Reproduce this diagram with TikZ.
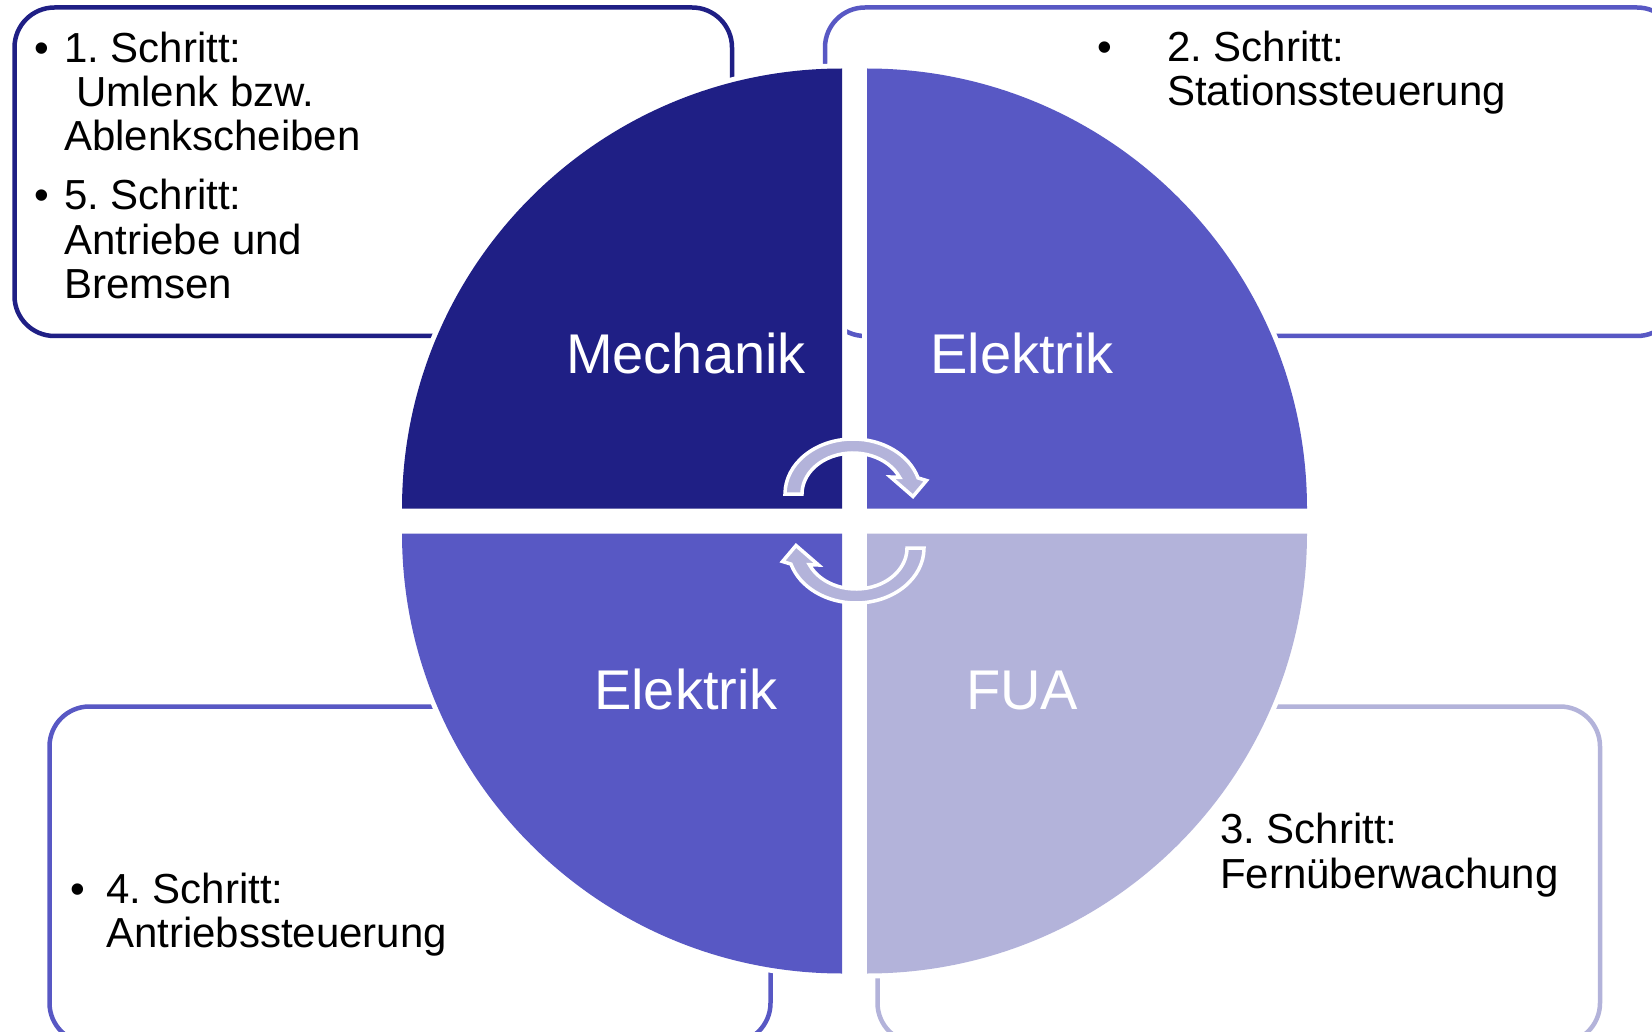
\documentclass[tikz,border=0pt]{standalone}
\usepackage{fontspec}
\setmainfont{Liberation Sans}
\usetikzlibrary{calc}
\definecolor{navy}{RGB}{31,31,133}
\definecolor{midblue}{RGB}{88,88,196}
\definecolor{lightblue}{RGB}{179,179,218}
\frenchspacing
\begin{document}
\begin{tikzpicture}[x=1pt,y=-1pt,
  box/.style={rounded corners=40pt, line width=4.5pt},
  quad/.style={preaction={draw=white, line width=10pt, line join=miter}},
  lbl/.style={anchor=base west, inner sep=0pt, text=black, font=\fontsize{42pt}{44pt}\selectfont},
  bul/.style={anchor=base, inner sep=0pt, text=black, font=\fontsize{42pt}{44pt}\selectfont},
  qlbl/.style={anchor=base, inner sep=0pt, text=white, font=\fontsize{56pt}{60pt}\selectfont},
  cyc/.style={fill=lightblue, draw=white, line width=3.5pt, line join=miter}
]
\path[use as bounding box, clip] (0,0) rectangle (1652,1032);
\fill[white] (0,0) rectangle (1652,1032);

% boxes
\draw[box, navy] (14.5,7.5) rectangle (732,336);
\draw[box, midblue] (825,7.5) rectangle (1677,336);
\draw[box, midblue] (49.5,706.5) rectangle (770.5,1043);
\draw[box, lightblue] (877.5,706.5) rectangle (1600,1043);

% quadrants
\fill[quad, navy] (842,508.5) -- ++(-440,0) arc[start angle=180, end angle=270, radius=440] -- cycle;
\fill[quad, midblue] (867,508.5) -- ++(440,0) arc[start angle=0, end angle=-90, radius=440] -- cycle;
\fill[quad, midblue] (842,533.5) -- ++(-440,0) arc[start angle=180, end angle=90, radius=440] -- cycle;
\fill[quad, lightblue] (867,533.5) -- ++(440,0) arc[start angle=0, end angle=90, radius=440] -- cycle;

% quadrant labels
\node[qlbl] (mech) at (686,373) {Mechanik};
\node[qlbl] (elek1) at (1022,373) {Elektrik};
\node[qlbl] (elek2) at (686,709) {Elektrik};
\node[qlbl] (fua) at (1022,709) {FUA};

% cycle arrows
\foreach \r in {0, 180}{
\begin{scope}[shift={(854.5,521)}, rotate=\r]
\path[cyc] ($(-1.5,-27)+(180:68 and 55)$)
  arc[start angle=180, end angle=343, x radius=68, y radius=55]
  -- (72,-40.5) -- (58.5,-24.5) -- (36,-44)
  -- ($(-1.5,-27)+(336:51 and 41)$)
  arc[start angle=336, end angle=180, x radius=51, y radius=41]
  -- cycle;
\end{scope}
}

% box 1 text
\node[bul] (b1) at (41.5,62.7) {•};
\node[lbl] (t1a) at (64,62.7) {1. Schritt:};
\node[lbl] (t1b) at (76,106.7) {Umlenk bzw.};
\node[lbl] (t1c) at (64,150.7) {Ablenkscheiben};
\node[bul] (b5) at (41.5,210) {•};
\node[lbl] (t5a) at (64,210) {5. Schritt:};
\node[lbl] (t5b) at (64,254.5) {Antriebe und};
\node[lbl] (t5c) at (64,298.5) {Bremsen};

% box 2 text
\node[bul] (b2) at (1105,62) {•};
\node[lbl] (t2a) at (1167,62) {2. Schritt:};
\node[lbl] (t2b) at (1167,106) {Stationssteuerung};

% box 4 text
\node[bul] (b4) at (78,903) {•};
\node[lbl] (t4a) at (106,903) {4. Schritt:};
\node[lbl] (t4b) at (106,947) {Antriebssteuerung};

% box 3 text
\node[lbl] (t3a) at (1220,843) {3. Schritt:};
\node[lbl] (t3b) at (1220,888) {Fernüberwachung};
\end{tikzpicture}
\end{document}
